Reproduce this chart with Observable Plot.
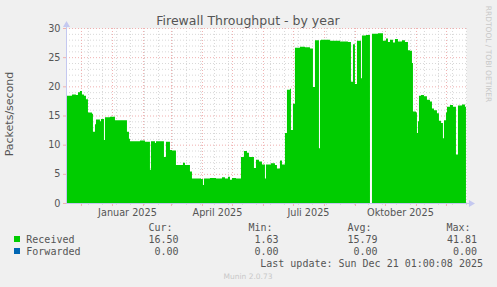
<!DOCTYPE html>
<html>
<head>
<meta charset="utf-8">
<script src="https://cdn.jsdelivr.net/npm/d3@7"></script>
<script src="https://cdn.jsdelivr.net/npm/@observablehq/plot@0.6"></script>
<style>
  html, body { margin: 0; padding: 0; background: #f0f0f0; }
  #wrap { position: relative; width: 497px; height: 287px; overflow: hidden; font-family: "DejaVu Sans", sans-serif; color: #555; }
  #wrap svg { position: absolute; left: 0; top: 0; }
  .abs { position: absolute; white-space: pre; }
  .mono { font-family: "DejaVu Sans Mono", monospace; font-size: 10px; line-height: 12px; color: #555; }
</style>
</head>
<body>
<div id="wrap"></div>
<script>
// ---- data ----
const receivedDates = [
  "2024-11-16","2024-11-22","2024-11-26","2024-11-28","2024-11-30","2024-12-02","2024-12-04","2024-12-06",
  "2024-12-08","2024-12-12","2024-12-13","2024-12-15","2024-12-16","2024-12-20","2024-12-21","2024-12-24",
  "2024-12-25","2024-12-30","2025-01-04","2025-01-16","2025-01-18","2025-01-19","2025-01-29","2025-02-03",
  "2025-02-08","2025-02-09","2025-02-13","2025-02-14","2025-02-22","2025-02-24","2025-02-28","2025-03-02",
  "2025-03-06","2025-03-13","2025-03-15","2025-03-20","2025-03-22","2025-03-31","2025-04-02","2025-04-03",
  "2025-04-09","2025-04-15","2025-04-21","2025-04-24","2025-04-27","2025-04-29","2025-05-01","2025-05-05",
  "2025-05-10","2025-05-13","2025-05-16","2025-05-18","2025-05-23","2025-05-25","2025-05-28","2025-05-31",
  "2025-06-03","2025-06-04","2025-06-09","2025-06-13","2025-06-15","2025-06-18","2025-06-20","2025-06-23",
  "2025-06-25","2025-06-28","2025-06-29","2025-07-01","2025-07-03","2025-07-08","2025-07-13","2025-07-18",
  "2025-07-21","2025-07-23","2025-07-27","2025-07-28","2025-07-29","2025-08-07","2025-08-17","2025-08-25",
  "2025-08-28","2025-08-30","2025-09-01","2025-09-03","2025-09-07","2025-09-08","2025-09-12","2025-09-16",
  "2025-09-17","2025-09-18","2025-09-24","2025-09-29","2025-10-02","2025-10-04","2025-10-06","2025-10-09",
  "2025-10-11","2025-10-14","2025-10-18","2025-10-21","2025-10-24","2025-10-26","2025-10-28","2025-10-29",
  "2025-11-01","2025-11-02","2025-11-03","2025-11-04","2025-11-06","2025-11-09","2025-11-12","2025-11-15",
  "2025-11-17","2025-11-19","2025-11-22","2025-11-24","2025-11-26","2025-11-28","2025-11-29","2025-12-01",
  "2025-12-02","2025-12-05","2025-12-08","2025-12-11","2025-12-13","2025-12-17","2025-12-20","2025-12-21"
];
const receivedValues = [
  18.4,18.6,18.5,19.0,19.2,18.6,18.4,17.8,
  15.5,15.3,12.2,13.5,14.3,14.0,14.4,10.8,
  14.7,14.8,14.2,12.2,11.0,10.6,10.7,10.5,
  5.7,10.6,10.3,10.6,7.9,10.5,9.1,9.0,
  6.5,6.9,6.5,5.4,4.2,4.1,3.1,4.2,
  4.3,4.2,4.4,4.2,4.5,4.0,4.3,4.2,
  7.9,8.9,8.6,7.9,6.0,7.4,7.1,6.6,
  4.2,6.6,6.8,6.5,5.9,7.3,6.6,12.0,
  19.4,19.6,12.5,17.0,26.6,26.8,26.7,26.5,
  19.9,27.9,9.4,27.9,28.0,27.8,27.7,27.6,
  20.8,27.2,20.4,27.8,21.4,28.7,28.8,28.8,
  null,29.0,29.1,27.8,28.2,27.6,28.0,27.5,
  28.1,27.7,27.9,27.6,26.2,26.1,24.0,15.7,
  15.5,12.0,14.0,18.4,18.5,18.3,17.7,17.4,
  16.2,15.9,15.4,14.1,13.7,11.1,14.2,15.5,
  16.5,16.8,16.5,8.3,16.7,16.9,16.5,16.5
];

const yTicks = [0, 5, 10, 15, 20, 25, 30];
const xLabelDates = ["2025-01-16", "2025-04-16", "2025-07-16", "2025-10-16"];
const xLabels = ["Januar 2025", "April 2025", "Juli 2025", "Oktober 2025"];

const legendNames = ["Received", "Forwarded"];
const legendColors = ["#00cc00", "#0066b3"];
const legendCur = ["16.50", "0.00"];
const legendMin = ["1.63", "0.00"];
const legendAvg = ["15.79", "0.00"];
const legendMax = ["41.81", "0.00"];
const legendHeaders = ["Cur:", "Min:", "Avg:", "Max:"];

const titleText = "Firewall Throughput - by year";
const yLabelText = "Packets/second";
const lastUpdate = "Last update: Sun Dec 21 01:00:08 2025";
const footerText = "Munin 2.0.73";
const sideText = "RRDTOOL / TOBI OETIKER";

// ---- build ----
const parse = s => new Date(s + "T00:00:00Z");
const data = receivedDates.map((d, i) => ({date: parse(d), value: receivedValues[i]}));
const start = new Date(Date.UTC(2024, 10, 16, 1));
const end = new Date(Date.UTC(2025, 11, 21, 1));
const axisEnd = new Date(Date.UTC(2025, 11, 25, 12));
const monthStarts = d3.utcMonth.range(new Date(Date.UTC(2024, 11, 1)), end);
const minorX = d3.utcDay.range(parse("2024-12-08"), end, 14);
const minorY = d3.range(1, 30).filter(v => v % 5 !== 0);
const majorY = yTicks.filter(v => v > 0);

const axisColor = "#c4c8f0";
const minorColor = "#d8d8d8";
const majorColor = "#f0b0b0";

const chart = Plot.plot({
  width: 497,
  height: 287,
  marginLeft: 66,
  marginRight: 31,
  marginTop: 28,
  marginBottom: 84,
  style: {background: "transparent", fontFamily: "DejaVu Sans", fontSize: "9.7px", color: "#555", overflow: "visible"},
  x: {type: "utc", domain: [start, end]},
  y: {domain: [0, 30]},
  marks: [
    Plot.frame({fill: "white"}),
    Plot.ruleY(minorY, {stroke: minorColor, strokeDasharray: "1,2"}),
    Plot.ruleX(minorX, {stroke: minorColor, strokeDasharray: "1,2"}),
    Plot.ruleY(majorY, {stroke: majorColor, strokeDasharray: "1,2"}),
    Plot.ruleX(monthStarts, {stroke: majorColor, strokeDasharray: "1,2"}),
    Plot.areaY(data, {x: "date", y1: 0, y2: "value", curve: "step-after", fill: "#00cc00", clip: true}),
    Plot.axisY({ticks: yTicks, tickSize: 3, tickPadding: 3, stroke: majorColor, label: null}),
    Plot.axisX({ticks: monthStarts, tickSize: 3, stroke: majorColor, tickFormat: () => "", label: null}),
    Plot.axisX({ticks: minorX, tickSize: 2, stroke: minorColor, tickFormat: () => "", label: null}),
    Plot.axisX({ticks: xLabelDates.map(parse), tickSize: 0, tickPadding: 5.6, tickFormat: (d, i) => xLabels[i], label: null}),
    Plot.ruleY([0], {x1: start, x2: axisEnd, stroke: axisColor}),
    Plot.ruleX([start], {y1: 0, y2: 30.6, stroke: axisColor}),
    Plot.dot([{x: axisEnd, y: 0}], {x: "x", y: "y", symbol: "triangle", rotate: 90, r: 2.6, fill: axisColor, stroke: null}),
    Plot.dot([{x: start, y: 30.6}], {x: "x", y: "y", symbol: "triangle", r: 2.6, fill: axisColor, stroke: null})
  ]
});

const wrap = document.getElementById("wrap");
wrap.appendChild(chart);

function addDiv(text, css, cls) {
  const el = document.createElement("div");
  el.className = "abs" + (cls ? " " + cls : "");
  el.textContent = text;
  Object.assign(el.style, css);
  wrap.appendChild(el);
  return el;
}

// title
addDiv(titleText, {left: "0px", width: "496px", top: "12.8px", textAlign: "center", fontSize: "12.5px", lineHeight: "15px", color: "#555"});
// y label (rotated)
addDiv(yLabelText, {left: "-50px", top: "107px", width: "120px", height: "14px", textAlign: "center", fontSize: "11px", lineHeight: "14px", transform: "rotate(-90deg)", color: "#555"});
// right side credit
addDiv(sideText, {left: "427.5px", top: "48.5px", width: "120px", height: "10px", textAlign: "center", fontSize: "7.5px", lineHeight: "10px", transform: "rotate(90deg)", color: "#c8c8c8"});

// legend header
const headerRight = [172.5, 272.5, 371.5, 470.5];
const valueRight = [178.5, 278.5, 377.5, 477];
legendHeaders.forEach((h, i) => addDiv(h, {left: (headerRight[i] - 60) + "px", width: "60px", top: "221.9px", textAlign: "right"}, "mono"));
const rowCenters = [239.3, 251.3];
const cols = [legendCur, legendMin, legendAvg, legendMax];
legendNames.forEach((name, r) => {
  const top = rowCenters[r] - 5.8;
  const sq = document.createElement("div");
  sq.className = "abs";
  Object.assign(sq.style, {left: "14px", top: (rowCenters[r] - 3) + "px", width: "6px", height: "6px", background: legendColors[r]});
  wrap.appendChild(sq);
  addDiv(name, {left: "26.3px", top: top + "px"}, "mono");
  cols.forEach((col, c) => addDiv(col[r], {left: (valueRight[c] - 60) + "px", width: "60px", top: top + "px", textAlign: "right"}, "mono"));
});
addDiv(lastUpdate, {left: "182px", width: "301px", top: "257.5px", textAlign: "right"}, "mono");
addDiv(footerText, {left: "0px", width: "496px", top: "271.6px", textAlign: "center", fontSize: "7.5px", lineHeight: "9px", color: "#c8c8c8"});
</script>
</body>
</html>
